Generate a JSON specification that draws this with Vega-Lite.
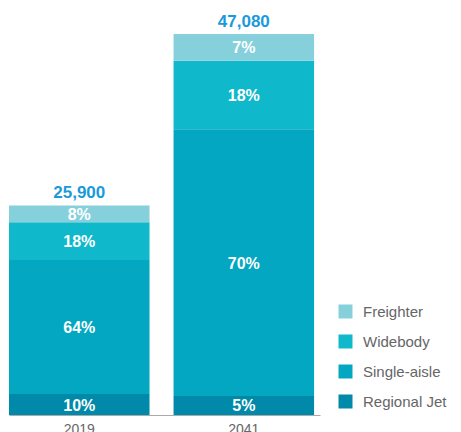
{
  "$schema": "https://vega.github.io/schema/vega-lite/v6.json",
  "autosize": {"type": "none"},
  "width": 311,
  "height": 415,
  "padding": {"left": 9, "top": 0, "right": 141, "bottom": 17},
  "config": {
    "view": {"stroke": null},
    "font": "Liberation Sans"
  },
  "data": {
    "values": [
      {"year": "2019", "type": "Regional Jet", "rank": 1, "share": 0.10, "units": 2590},
      {"year": "2019", "type": "Single-aisle", "rank": 2, "share": 0.64, "units": 16576},
      {"year": "2019", "type": "Widebody", "rank": 3, "share": 0.18, "units": 4662},
      {"year": "2019", "type": "Freighter", "rank": 4, "share": 0.08, "units": 2072},
      {"year": "2041", "type": "Regional Jet", "rank": 1, "share": 0.05, "units": 2354},
      {"year": "2041", "type": "Single-aisle", "rank": 2, "share": 0.70, "units": 32956},
      {"year": "2041", "type": "Widebody", "rank": 3, "share": 0.18, "units": 8474},
      {"year": "2041", "type": "Freighter", "rank": 4, "share": 0.07, "units": 3296}
    ]
  },
  "encoding": {
    "x": {
      "field": "year",
      "type": "nominal",
      "scale": {"paddingInner": 0.146, "paddingOuter": 0.018, "align": 0},
      "axis": {
        "title": null,
        "ticks": false,
        "labelAngle": 0,
        "labelFontSize": 14,
        "labelColor": "#666666",
        "labelPadding": 7,
        "domainColor": "#aaaaaa",
        "domainWidth": 1,
        "grid": false
      }
    }
  },
  "layer": [
    {
      "mark": {"type": "bar"},
      "encoding": {
        "y": {
          "field": "units",
          "type": "quantitative",
          "stack": "zero",
          "scale": {"domain": [0, 51282], "nice": false},
          "axis": null
        },
        "order": {"field": "rank", "type": "quantitative"},
        "color": {
          "field": "type",
          "type": "nominal",
          "scale": {
            "domain": ["Freighter", "Widebody", "Single-aisle", "Regional Jet"],
            "range": ["#86d0dc", "#10b8cc", "#03a7c1", "#0189a9"]
          },
          "legend": {
            "title": null,
            "orient": "none",
            "legendX": 329,
            "legendY": 304,
            "symbolType": "square",
            "symbolSize": 196,
            "symbolStrokeWidth": 0,
            "symbolOpacity": 1,
            "labelFontSize": 15,
            "labelColor": "#666666",
            "labelOffset": 10,
            "rowPadding": 14
          }
        }
      }
    },
    {
      "transform": [
        {"stack": "units", "groupby": ["year"], "sort": [{"field": "rank", "order": "ascending"}], "as": ["y0", "y1"]},
        {"calculate": "(datum.y0 + datum.y1) / 2", "as": "mid"}
      ],
      "mark": {"type": "text", "color": "#ffffff", "fontWeight": "bold", "fontSize": 16, "baseline": "middle", "dy": 1},
      "encoding": {
        "y": {"field": "mid", "type": "quantitative", "scale": {"domain": [0, 51282], "nice": false}},
        "text": {"field": "share", "type": "quantitative", "format": ".0%"}
      }
    },
    {
      "transform": [
        {"aggregate": [{"op": "sum", "field": "units", "as": "total"}], "groupby": ["year"]}
      ],
      "mark": {"type": "text", "color": "#1b9ad9", "fontWeight": "bold", "fontSize": 17, "baseline": "alphabetic", "dy": -7},
      "encoding": {
        "y": {"field": "total", "type": "quantitative", "scale": {"domain": [0, 51282], "nice": false}},
        "text": {"field": "total", "type": "quantitative", "format": ","}
      }
    }
  ]
}
